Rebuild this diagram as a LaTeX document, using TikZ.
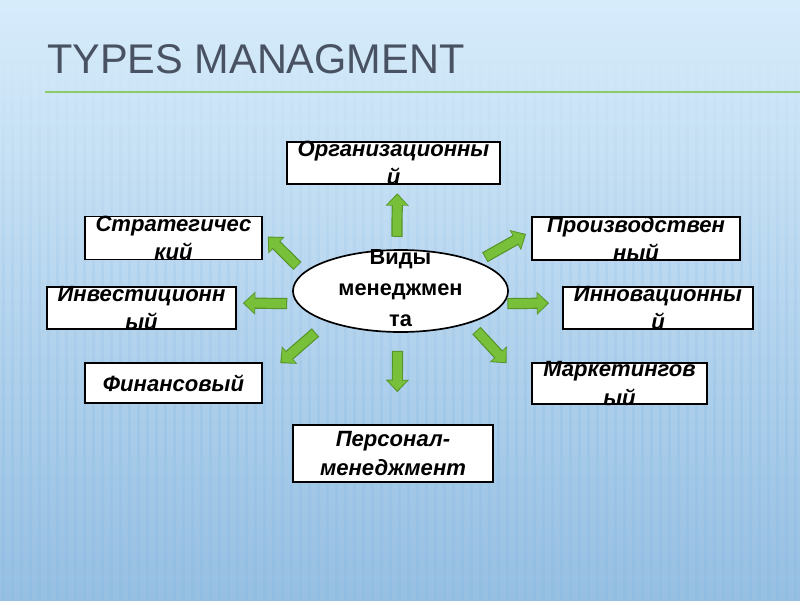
\documentclass[tikz,border=0pt]{standalone}
\usepackage{fontspec}
\setmainfont{Liberation Sans}
\usetikzlibrary{shapes.geometric,arrows.meta,fadings}

\definecolor{bgtop}{RGB}{215,236,251}
\definecolor{bgmid}{RGB}{192,223,245}
\definecolor{bgbot}{RGB}{150,191,226}
\definecolor{stripeblue}{RGB}{140,188,228}
\definecolor{titlegray}{RGB}{72,82,98}
\definecolor{rulegreen}{RGB}{140,202,106}
\definecolor{arrowfill}{RGB}{120,192,58}
\definecolor{arrowedge}{RGB}{86,148,40}

\begin{document}
\begin{tikzpicture}[x=0.025cm,y=-0.025cm,
  stripe/.style={stripeblue, opacity=0.4, line width=2pt},
  title/.style={font=\fontsize{29.5}{30}\selectfont, text=titlegray, inner sep=0pt},
  box/.style={draw=black, fill=white, line width=1.2pt, inner sep=0pt},
  oval/.style={draw=black, fill=white, ellipse, line width=1.2pt, inner sep=0pt},
  boxtext/.style={font=\fontsize{15.7}{20}\selectfont\bfseries\itshape, align=center, inner sep=0pt},
  ovaltext/.style={font=\fontsize{15.5}{22}\selectfont\bfseries, align=center, inner sep=0pt},
  arrowout/.style={draw=arrowedge, line width=0.28cm, -{Triangle[width=0.56cm,length=0.31cm]}},
  arrowin/.style={draw=arrowfill, line width=0.22cm, -{Triangle[width=0.47cm,length=0.25cm]}}]
\useasboundingbox (0,0) rectangle (800,600);

% background
\shade[top color=bgtop, middle color=bgmid, bottom color=bgbot] (0,0) rectangle (800,600);
\draw[stripe, path fading=north] \foreach \i in {4,13,...,800} {(\i,60) -- (\i,600)};

% title
\node[title, anchor=base west] (title) at (47,73) {TYPES MANAGMENT};
\draw[rulegreen, line width=1.5pt] (45,92) -- (800,92);

% centre
\node[oval, minimum width=5.375cm, minimum height=2.05cm] (vid) at (400.5,291) {};
\node[ovaltext] (vid-t) at (400.5,288.5) {Виды\\менеджмен\\та};

% boxes
\node[box, minimum width=5.325cm, minimum height=1.05cm] (org) at (393.5,163) {};
\node[boxtext] (org-t) at (org) {Организационны\\й};

\node[box, minimum width=4.425cm, minimum height=1.075cm] (strat) at (173.5,238) {};
\node[boxtext] (strat-t) at (strat) {Стратегичес\\кий};

\node[box, minimum width=4.725cm, minimum height=1.05cm] (invest) at (141.5,308) {};
\node[boxtext] (invest-t) at (invest) {Инвестиционн\\ый};

\node[box, minimum width=4.425cm, minimum height=1.0cm] (fin) at (173.5,383) {};
\node[boxtext] (fin-t) at (fin) {Финансовый};

\node[box, minimum width=5.2cm, minimum height=1.075cm] (proizv) at (636,238.5) {};
\node[boxtext] (proizv-t) at (proizv) {Производствен\\ный};

\node[box, minimum width=4.75cm, minimum height=1.05cm] (innov) at (658,308) {};
\node[boxtext] (innov-t) at (innov) {Инновационны\\й};

\node[box, minimum width=4.375cm, minimum height=1.025cm] (mark) at (619.5,383.5) {};
\node[boxtext] (mark-t) at (mark) {Маркетингов\\ый};

\node[box, minimum width=5.0cm, minimum height=1.425cm] (pers) at (393,453.5) {};
\node[boxtext, font=\fontsize{15.7}{21}\selectfont\bfseries\itshape] (pers-t) at (pers) {Персонал-\\менеджмент};

% arrows
\draw[arrowout, shorten <=0.31cm, shorten >=0.21cm] (vid.95) -- (org.280);
\draw[arrowin, shorten <=0.335cm, shorten >=0.25cm] (vid.95) -- (org.280);

\draw[arrowout, shorten <=0.22cm, shorten >=0.17cm] (vid.169) -- (strat.4);
\draw[arrowin, shorten <=0.245cm, shorten >=0.21cm] (vid.169) -- (strat.4);

\draw[arrowout, shorten <=0.25cm, shorten >=0.15cm] (vid.187) -- (invest.3);
\draw[arrowin, shorten <=0.275cm, shorten >=0.19cm] (vid.187) -- (invest.3);

\draw[arrowout, shorten <=0.4cm, shorten >=0.575cm] (vid.203) -- (fin.3);
\draw[arrowin, shorten <=0.425cm, shorten >=0.615cm] (vid.203) -- (fin.3);

\draw[arrowout, shorten <=0.45cm, shorten >=0.8cm] (vid.266) -- (pers.82);
\draw[arrowin, shorten <=0.475cm, shorten >=0.84cm] (vid.266) -- (pers.82);

\draw[arrowout, shorten <=0.215cm, shorten >=0.145cm] (vid.21) -- (proizv.176);
\draw[arrowin, shorten <=0.24cm, shorten >=0.185cm] (vid.21) -- (proizv.176);

\draw[arrowout, shorten <=0.09cm, shorten >=0.325cm] (vid.353) -- (innov.177);
\draw[arrowin, shorten <=0.115cm, shorten >=0.365cm] (vid.353) -- (innov.177);

\draw[arrowout, shorten <=0.25cm, shorten >=0.9cm] (vid.335) -- (mark.184);
\draw[arrowin, shorten <=0.275cm, shorten >=0.94cm] (vid.335) -- (mark.184);
\end{tikzpicture}
\end{document}
